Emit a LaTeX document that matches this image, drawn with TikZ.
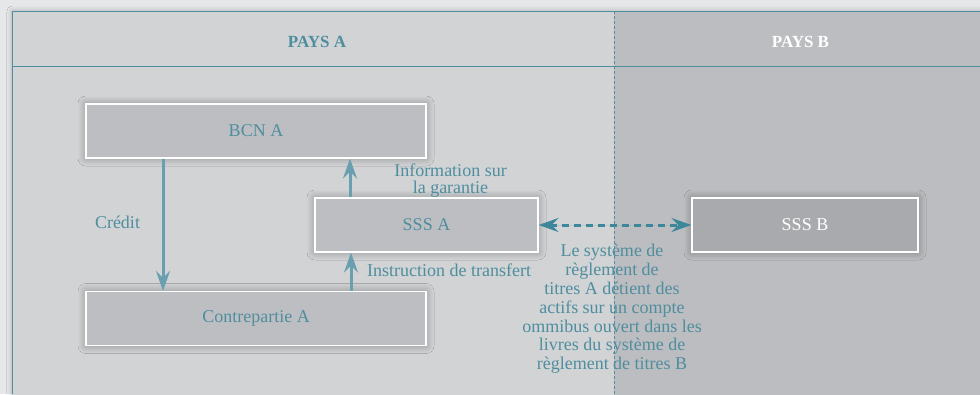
\documentclass[tikz,border=0pt]{standalone}
\usepackage{fontspec}
\setmainfont{Liberation Serif}
\usetikzlibrary{arrows.meta,shadows.blur}
\definecolor{fondext}{HTML}{E6E7E8}
\definecolor{gauche}{HTML}{D2D3D5}
\definecolor{droite}{HTML}{BCBDC0}
\definecolor{grisboite}{HTML}{BDBEC1}
\definecolor{grisfonce}{HTML}{A9AAAD}
\definecolor{bleu}{HTML}{4F8E9F}
\definecolor{bleufleche}{HTML}{6A9FB0}
\definecolor{bleufonce}{HTML}{3D879B}
\begin{document}
\begin{tikzpicture}[x=1pt,y=-1pt,>={Stealth[length=20pt,width=14pt,inset=7pt]},
    boite/.style={draw=white,line width=1.2pt,fill=grisboite,text=bleu,
        minimum width=340pt,minimum height=54pt,font=\fontsize{18}{20}\selectfont,
        blur shadow={shadow xshift=0pt,shadow yshift=0pt,shadow blur radius=8pt,
        shadow blur steps=20,shadow opacity=35}},
    texte/.style={text=bleu,font=\fontsize{18}{18.8}\selectfont,align=center},
    fleche/.style={->,draw=bleufleche,fill=bleufleche,line width=3pt},
    titre/.style={font=\fontsize{17}{20}\selectfont\bfseries}]
    \useasboundingbox (0,0) rectangle (980,394);
    \fill[fondext] (0,0) rectangle (980,394);
    % cadre
    \fill[gauche,blur shadow={shadow xshift=0pt,shadow yshift=0pt,shadow blur radius=5pt,
        shadow opacity=25}] (12,11) rectangle (1010,420);
    \fill[droite] (614,11) rectangle (1010,420);
    \draw[bleu,line width=1pt] (980,11) -- (12,11) -- (12,394);
    \draw[bleu,line width=1pt] (12,66) -- (980,66);
    \draw[bleu,line width=1pt,dash pattern=on 3pt off 2pt] (614,11) -- (614,394);
    \node[titre,text=bleu] (paysa) at (317,42) {PAYS A};
    \node[titre,text=white] (paysb) at (800.5,42) {PAYS B};
    % boites
    \node[boite] (bcn) at (256,131) {BCN A};
    \node[boite] (contre) at (256,318.5) {Contrepartie A};
    \node[boite,minimum width=223pt] (sssa) at (426.5,225) {SSS A};
    \node[boite,minimum width=226pt,fill=grisfonce,text=white] (sssb) at (805,225) {SSS B};
    % fleches
    \draw[fleche] ([xshift=-93pt]bcn.south) -- ([xshift=-93pt]contre.north);
    \draw[fleche] ([xshift=-76.5pt]sssa.north) -- ([xshift=94pt]bcn.south);
    \draw[fleche] ([xshift=95pt]contre.north) -- ([xshift=-75.5pt]sssa.south);
    \draw[<->,draw=bleufonce,fill=bleufonce,line width=3pt,dash pattern=on 7pt off 5pt] (sssa.east) -- (sssb.west);
    % textes
    \node[texte] (credit) at (117.5,222) {Crédit};
    \node[texte,font=\fontsize{18}{16.7}\selectfont] (info) at (450.5,180.5) {Information sur\\la garantie};
    \node[texte,anchor=base west] (instr) at (363.7,276.7) {Instruction de transfert};
    \node[texte] (omnibus) at (612,309) {Le système de\\règlement de\\titres A détient des\\actifs sur un compte\\ommibus ouvert dans les\\livres du système de\\règlement de titres B};
\end{tikzpicture}
\end{document}
